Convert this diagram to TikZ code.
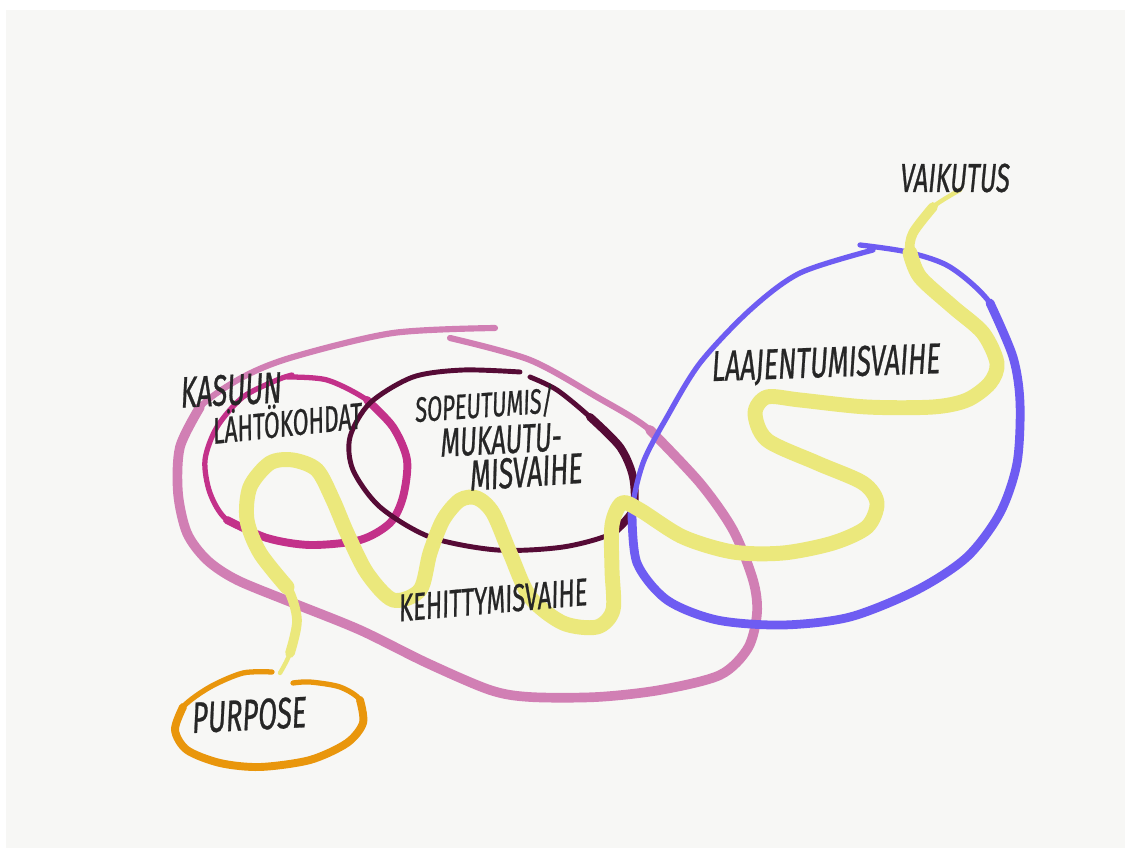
\documentclass[tikz,border=0pt]{standalone}
\usepackage{fontspec}
\newfontfamily\sketchfont[FakeStretch=0.62,FakeSlant=0.1,FakeBold=0.6]{Fira Sans}

\definecolor{paper}{HTML}{F7F7F5}
\definecolor{ink}{HTML}{262626}
\definecolor{outerpink}{HTML}{D17FB4}
\definecolor{startmagenta}{HTML}{C3318A}
\definecolor{adaptmaroon}{HTML}{560B36}
\definecolor{growblue}{HTML}{6E5CF2}
\definecolor{purposeorange}{HTML}{E9960C}
\definecolor{pathyellow}{HTML}{EBE87C}

\tikzset{
  sketch/.style={line cap=round, line join=round},
  word/.style={text=ink, inner sep=0pt, font=\sketchfont\fontsize{#1}{#1}\selectfont},
  word/.default=22
}

\begin{document}
\begin{tikzpicture}[x=0.02cm,y=-0.02cm]
\useasboundingbox (0,0) rectangle (1131,854);
\fill[paper] (6,10) rectangle (1125,848);

% kasvun vaiheet
\draw[sketch, outerpink, line width=3.5pt] plot[smooth] coordinates {(495,328) (393,333) (293,357) (243,377) (200,407) (180,447) (178,493) (187,533) (207,560) (237,580) (293,603) (360,630) (427,663) (490,690) (530,697) (597,697) (660,690) (720,675) (748,648) (757,613) (753,580) (733,530) (700,483) (650,430) (597,397) (530,360) (450,338)};
\draw[sketch, outerpink, line width=5.5pt] plot[smooth] coordinates {(200,407) (180,447) (178,493) (187,533) (207,560) (237,580) (293,603) (360,630) (427,663) (490,690) (530,697) (597,697) (660,690) (720,675) (748,648) (757,613) (753,580) (733,530) (700,483) (650,430)};

\draw[sketch, startmagenta, line width=3pt] plot[smooth] coordinates {(287,377) (327,380) (367,400) (393,427) (407,460) (403,497) (390,523) (360,540) (310,545) (267,538) (227,520) (210,493) (205,460) (217,427) (243,397) (277,380) (292,375)};
\draw[sketch, startmagenta, line width=4.5pt] plot[smooth] coordinates {(367,400) (393,427) (407,460) (403,497) (390,523) (360,540) (310,545) (267,538) (227,520)};

\draw[sketch, adaptmaroon, line width=2.8pt] plot[smooth] coordinates {(520,372) (463,370) (413,377) (370,403) (350,437) (353,470) (380,507) (430,537) (497,550) (563,547) (613,533) (633,510) (633,477) (620,447) (590,417) (557,390) (530,377)};
\draw[sketch, adaptmaroon, line width=4.5pt] plot[smooth] coordinates {(590,417) (620,447) (633,477) (633,510) (613,533)};

\draw[sketch, growblue, line width=3pt] plot[smooth] coordinates {(860,245) (907,252) (950,267) (990,303) (1013,357) (1020,403) (1017,463) (1000,513) (967,557) (917,590) (850,617) (783,625) (717,620) (667,600) (637,563) (632,513) (643,463) (667,417) (700,363) (750,310) (800,273) (873,250)};
\draw[sketch, growblue, line width=5pt] plot[smooth] coordinates {(990,303) (1013,357) (1020,403) (1017,463) (1000,513) (967,557) (917,590) (850,617) (783,625) (717,620) (667,600) (637,563) (632,513)};

\draw[sketch, purposeorange, line width=3pt] plot[smooth] coordinates {(272,672) (243,673) (210,687) (183,707) (175,730) (187,750) (220,763) (260,767) (310,760) (347,743) (363,723) (360,700) (340,687) (310,682) (293,683)};
\draw[sketch, purposeorange, line width=4.5pt] plot[smooth] coordinates {(183,707) (175,730) (187,750) (220,763) (260,767) (310,760) (347,743) (363,723) (360,700)};

% polku
\draw[sketch, pathyellow, line width=2.5pt] plot[smooth] coordinates {(280,673) (290,653) (297,620) (287,587) (260,553) (247,520) (250,487) (270,463) (293,460) (317,470) (333,500) (347,533) (367,573) (393,600) (420,590) (430,553) (443,520) (460,500) (477,498) (493,513) (510,553) (530,597) (563,623) (597,627) (613,610) (612,570) (612,525) (622,503) (640,510) (683,537) (733,552) (783,553) (833,543) (867,527) (877,503) (863,483) (817,463) (767,440) (755,413) (767,397) (800,400) (867,407) (933,407) (967,400) (990,383) (997,363) (983,333) (953,307) (920,277) (910,253) (913,233) (933,207) (960,190)};
\draw[sketch, pathyellow, line width=5.5pt] plot[smooth] coordinates {(290,653) (297,620) (287,587) (260,553) (247,520) (250,487) (270,463) (293,460) (317,470) (333,500) (347,533) (367,573) (393,600) (420,590) (430,553) (443,520) (460,500) (477,498) (493,513) (510,553) (530,597) (563,623) (597,627) (613,610) (612,570) (612,525) (622,503) (640,510) (683,537) (733,552) (783,553) (833,543) (867,527) (877,503) (863,483) (817,463) (767,440) (755,413) (767,397) (800,400) (867,407) (933,407) (967,400) (990,383) (997,363) (983,333) (953,307) (920,277) (910,253) (913,233) (933,207)};
\draw[sketch, pathyellow, line width=8.5pt] plot[smooth] coordinates {(287,587) (260,553) (247,520) (250,487) (270,463) (293,460) (317,470) (333,500) (347,533) (367,573) (393,600) (420,590) (430,553) (443,520) (460,500) (477,498) (493,513) (510,553) (530,597) (563,623) (597,627) (613,610) (612,570) (612,525) (622,503) (640,510) (683,537) (733,552) (783,553) (833,543) (867,527) (877,503) (863,483) (817,463) (767,440) (755,413) (767,397) (800,400) (867,407) (933,407) (967,400) (990,383) (997,363) (983,333) (953,307) (920,277) (910,253)};

% tekstit
\node[word=25, rotate=3] (kasuun) at (230,390) {KASUUN};
\node[word=21, rotate=6] (lahtokohdat) at (286,420) {LÄHTÖKOHDAT};
\node[word=20, rotate=4] (sopeutumis) at (483,405) {SOPEUTUMIS/};
\node[word=23, rotate=3] (mukautu) at (500,440) {MUKAUTU-};
\node[word=24.5, rotate=4] (misvaihe) at (525,472) {MISVAIHE};
\node[word=22, rotate=5] (kehittymis) at (492,600) {KEHITTYMISVAIHE};
\node[word=24.5, rotate=2] (laajentumis) at (825,365) {LAAJENTUMISVAIHE};
\node[word=23] (vaikutus) at (954,178) {VAIKUTUS};
\node[word=25, rotate=3] (purpose) at (248,715) {PURPOSE};
\end{tikzpicture}
\end{document}
